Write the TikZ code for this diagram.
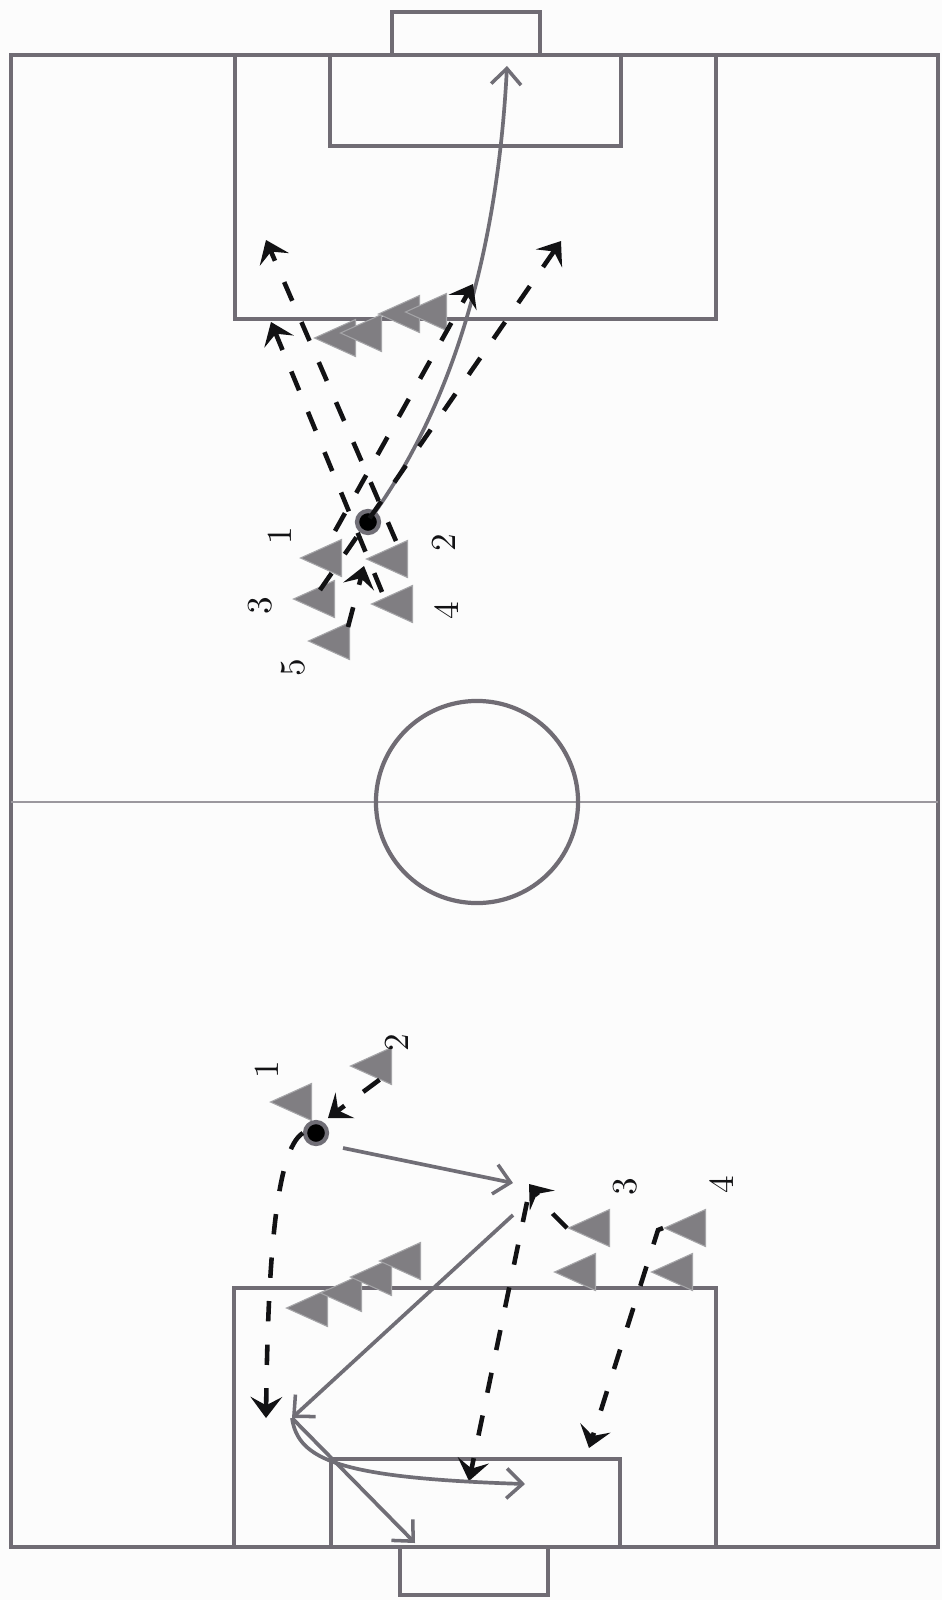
\documentclass[tikz,border=0pt]{standalone}
\usepackage{tikz}
\usepackage{xcolor}
\usetikzlibrary{shapes.geometric, calc, arrows.meta}
\definecolor{pitch}{RGB}{112,108,116}
\definecolor{marker}{RGB}{128,126,130}
\definecolor{markeredge}{RGB}{165,165,168}
\definecolor{run}{RGB}{18,18,20}
\definecolor{pass}{RGB}{112,110,118}
\tikzset{
    player/.style={isosceles triangle, isosceles triangle apex angle=42, isosceles triangle stretches,
        shape border rotate=180, anchor=apex, minimum width=0.37cm, minimum height=0.41cm, inner sep=0pt,
        fill=marker, draw=markeredge, line width=0.3pt},
    ball/.style={circle, fill=black, draw=pass, line width=1.2pt, minimum size=0.22cm, inner sep=0pt},
    num/.style={rotate=90, font=\normalsize, color=run},
    line/.style={pitch, line width=1.2pt},
    runline/.style={run, line width=1.3pt, dash pattern=on 5.8pt off 6.6pt, -{Stealth[length=6pt, width=9pt, inset=2.4pt]}},
    passline/.style={pass, line width=1.05pt, -{Straight Barb[length=4.5pt, width=8.5pt, line width=1pt]}}
}
\begin{document}
\begin{tikzpicture}[x=0.01cm, y=-0.01cm]
    \useasboundingbox (0,0) rectangle (942,1600);
    \fill[white!99!black] (0,0) rectangle (942,1600);
    % pitch
    \draw[line] (11,55) rectangle (938,1547);
    \draw[pitch!70, line width=0.35pt] (11,802) -- (938,802);
    \draw[line] (477,802) circle[radius=1.01cm];
    \draw[line] (235,55) rectangle (716,319);
    \draw[line] (330,55) rectangle (621,146);
    \draw[line] (392,55) -- (392,12) -- (540,12) -- (540,55);
    \draw[line] (234,1547) rectangle (716,1288);
    \draw[line] (331,1547) rectangle (620,1459);
    \draw[line] (400,1547) -- (400,1595) -- (548,1595) -- (548,1547);
    % markers
    \foreach \name/\px/\py in {wa/313/338, wb/339/333, wc/377/314, wd/404/312,
        ta/299/558, tb/365/559, tc/292/599, td/370/604, te/307/641,
        va/285/1308, vb/319/1293, vc/349/1277, vd/378/1261, ve/553/1272, vf/650/1272,
        ba/269/1102, bb/349/1066, bc/567/1228, bd/663/1228}
        \node[player] (\name) at (\px,\py) {};
    % numbers
    \foreach \name/\px/\py/\txt in {lta/280/536/1, ltb/444/543/2, ltc/260/606/3, ltd/447/611/4, lte/293/668/5,
        lba/267/1070/1, lbb/397/1043/2, lbc/625/1187/3, lbd/722/1185/4}
        \node[num] (\name) at (\px,\py) {\txt};
    \node[ball] (balltop) at (368,522) {};
    \node[ball] (ballbot) at (316,1133) {};
    % top half
    \coordinate (tgoal) at (507,66);
    \coordinate (tra) at (266,240);
    \coordinate (trb) at (271,322);
    \coordinate (trc) at (473,284);
    \coordinate (trd) at (561,241);
    \coordinate (tre) at (364,566);
    \coordinate (sa) at (396,541);
    \coordinate (sb) at (382,592);
    \coordinate (sc) at (335,531);
    \coordinate (sd) at (320,590);
    \coordinate (se) at (348,627);
    \draw[passline] (balltop) .. controls (440,420) and (496,280) .. (tgoal);
    \draw[runline] (sa) -- (tra);
    \draw[runline] (sb) -- (trb);
    \draw[runline] (sc) -- (trc);
    \draw[runline] (sd) -- (trd);
    \draw[runline] (se) -- (tre);
    % bottom half
    \coordinate (bra) at (266,1418);
    \coordinate (brb) at (328,1118);
    \coordinate (brc) at (529,1184);
    \coordinate (brd) at (527,1202);
    \coordinate (bre) at (469,1481);
    \coordinate (brf) at (589,1448);
    \coordinate (pka) at (513,1183);
    \coordinate (pkb) at (343,1148);
    \coordinate (pkc) at (513,1215);
    \coordinate (pkd) at (292,1418);
    \coordinate (pke) at (525,1484);
    \coordinate (pkf) at (415,1543);
    \draw[runline] (ballbot.west) .. controls (276,1150) and (268,1260) .. (bra);
    \draw[runline] (bb.south) -- (brb);
    \draw[runline] (bc.apex) -- ++(-14,-14) -- (brc);
    \draw[runline] (brd) -- (bre);
    \draw[runline] (bd.apex) -- ++(-5,2) -- (brf);
    \draw[passline] (pkb) -- (pka);
    \draw[passline] (pkc) -- (pkd);
    \draw[passline] (pkd) .. controls (298,1460) and (340,1478) .. (pke);
    \draw[passline] (pkd) -- (pkf);
\end{tikzpicture}
\end{document}
